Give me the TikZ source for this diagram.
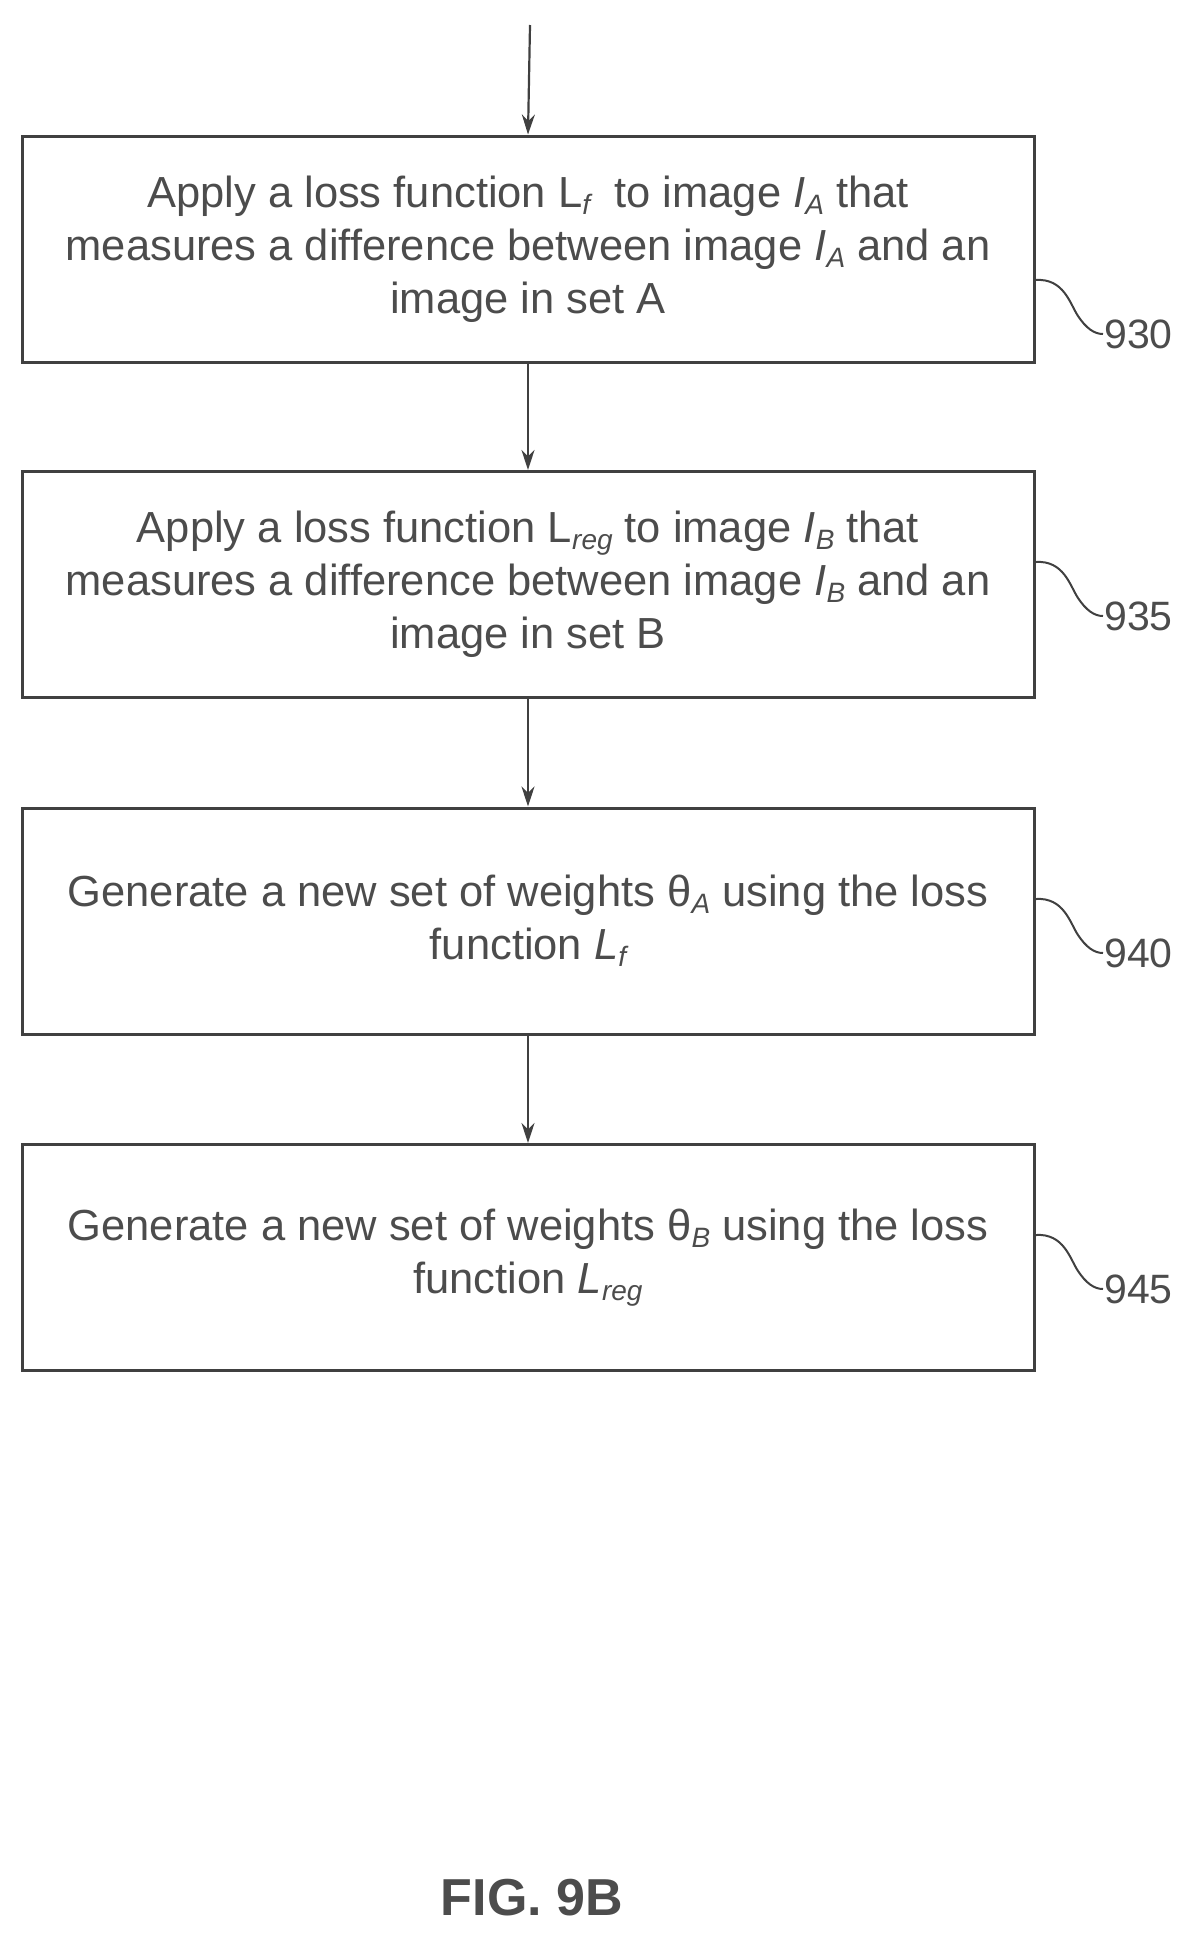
\documentclass[tikz,border=0pt]{standalone}
\usepackage{fontspec}
\setmainfont{Liberation Sans}
\usetikzlibrary{arrows.meta}
\newcommand{\sbs}[1]{\raisebox{-0.3ex}{\fontsize{28}{28}\selectfont\itshape #1}}
\begin{document}
\begin{tikzpicture}[x=1pt,y=-1pt,
  box/.style={draw=black!75,line width=3pt,minimum width=1012pt,minimum height=226pt,align=center,
    font=\fontsize{43.5}{53}\selectfont,text=black!70,inner sep=0pt},
  arr/.style={draw=black!75,line width=2.2pt,-{Stealth[length=20pt,width=13pt]}},
  lab/.style={font=\fontsize{41}{44}\selectfont,text=black!70,anchor=west,inner sep=1pt},
  sq/.style={draw=black!75,line width=2pt}]
\useasboundingbox (0,0) rectangle (1201,1947);
\node[box] (b1) at (528,249) {Apply a loss function L\sbs{f}\ \ to image \textit{I}\sbs{A} that\\measures a difference between image \textit{I}\sbs{A} and an\\image in set A};
\node[box] (b2) at (528,584.5) {Apply a loss function L\sbs{reg} to image \textit{I}\sbs{B} that\\measures a difference between image \textit{I}\sbs{B} and an\\image in set B};
\node[box] (b3) at (528,921) {Generate a new set of weights θ\sbs{A} using the loss\\function \textit{L}\sbs{f}};
\node[box] (b4) at (528,1257.5) {Generate a new set of weights θ\sbs{B} using the loss\\function \textit{L}\sbs{reg}};
\coordinate (top) at (530,25);
\draw[arr] (top) -- (b1.north);
\draw[arr] (b1) -- (b2);
\draw[arr] (b2) -- (b3);
\draw[arr] (b3) -- (b4);
\foreach \b/\n/\y in {b1/930/334, b2/935/616, b3/940/953, b4/945/1289}{
  \node[lab] (l\n) at (1103,\y) {\n};
  \draw[sq] (\b.east|-0,\y-54) .. controls (1064,\y-56) and (1070,\y-30) .. (1078,\y-18) .. controls (1086,\y-6) and (1094,\y) .. (l\n.west);
}
\node[font=\fontsize{52}{56}\selectfont\bfseries,text=black!70] (fig) at (532,1898) {FIG. 9B};
\end{tikzpicture}
\end{document}
